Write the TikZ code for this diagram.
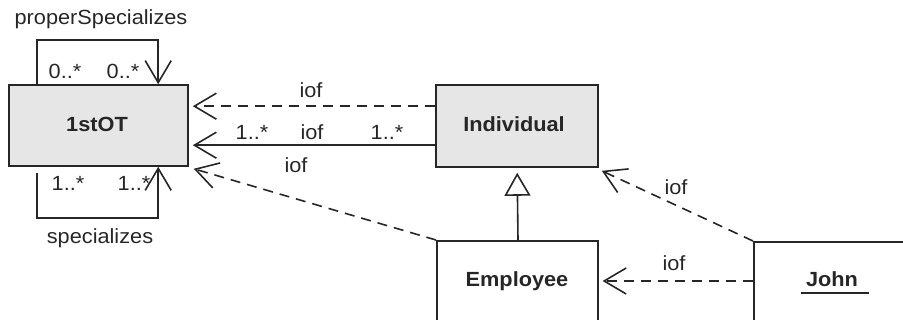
\documentclass[tikz,border=0pt]{standalone}
\usepackage{fontspec}
\setmainfont{Liberation Sans}[FakeStretch=1.06]
\usetikzlibrary{arrows.meta,calc}
\definecolor{ink}{HTML}{262626}
\definecolor{boxfill}{HTML}{E6E6E6}
\begin{document}
\begin{tikzpicture}[x=1pt,y=-1pt, font=\fontsize{20.5}{24}\selectfont, text=ink,
  box/.style={draw=ink, line width=1.6pt, rectangle, inner sep=0pt},
  gbox/.style={box, fill=boxfill},
  lbl/.style={inner sep=0pt, anchor=base},
  bold/.style={font=\fontsize{20.5}{24}\selectfont\bfseries},
  conn/.style={draw=ink, line width=1.6pt, -{Straight Barb[length=22pt,width=26pt,line width=1.6pt]}},
  dsh/.style={conn, dash pattern=on 10pt off 7pt},
  gen/.style={draw=ink, line width=1.6pt, -{Triangle[open, length=23pt, width=26pt, line width=1.6pt, fill=white]}}]
\useasboundingbox (0,0) rectangle (903,320);
\clip (0,0) rectangle (903,320);
% boxes
\node[gbox, minimum width=179pt, minimum height=81pt] (ot) at (98.5,125.5) {};
\node[lbl, bold] (ott) at (97,132) {1stOT};
\node[gbox, minimum width=162pt, minimum height=82pt] (ind) at (517,126) {};
\node[lbl, bold] (indt) at (514,132) {Individual};
\node[box, minimum width=161pt, minimum height=110pt, anchor=north west] (emp) at (436,240) {};
\node[lbl, bold] (empt) at (517,287) {Employee};
\node[box, minimum width=180pt, minimum height=110pt, anchor=north west] (john) at (753,241) {};
\node[lbl, bold] (johnt) at (832,287) {John};
\draw[ink, line width=1.6pt] ($(johnt.base west)+(-5,6)$) -- ($(johnt.base east)+(11,6)$);
% self loops
\draw[conn] ($(ot.north west)+(29,0)$) -- ++(0,-44) -| ($(ot.north west)+(150,0)$);
\draw[conn] ($(ot.south west)+(29,6)$) -- ++(0,45) -| ($(ot.south west)+(150,0)$);
\node[lbl] (ps) at (101,25) {properSpecializes};
\node[lbl] (m1) at (65,79) {0..*};
\node[lbl] (m2) at (123,79) {0..*};
\node[lbl] (m3) at (68,191) {1..*};
\node[lbl] (m4) at (134,191) {1..*};
\node[lbl] (sp) at (100,244) {specializes};
% connectors
\draw[dsh] ($(ind.north west)+(0,22)$) -- ($(ot.north east)+(4,22)$);
\draw[conn] ($(ind.north west)+(0,61)$) -- ($(ot.north east)+(4,61)$);
\draw[dsh] (emp.north west) -- ($(ot.south east)+(5,2)$);
\draw[dsh] (john.north west) -- ($(ind.south east)+(3,3)$);
\draw[dsh] ($(john.north west)+(0,40)$) -- ($(emp.north east)+(4,41)$);
\draw[gen] ($(emp.north west)+(82,0)$) -- ($(ind.south west)+(82,5)$);
% labels
\node[lbl] (l1) at (311,98) {iof};
\node[lbl] (l2) at (252,140) {1..*};
\node[lbl] (l3) at (312,140) {iof};
\node[lbl] (l4) at (387,140) {1..*};
\node[lbl] (l5) at (296,173) {iof};
\node[lbl] (l6) at (676,195) {iof};
\node[lbl] (l7) at (674,271) {iof};
\end{tikzpicture}
\end{document}
